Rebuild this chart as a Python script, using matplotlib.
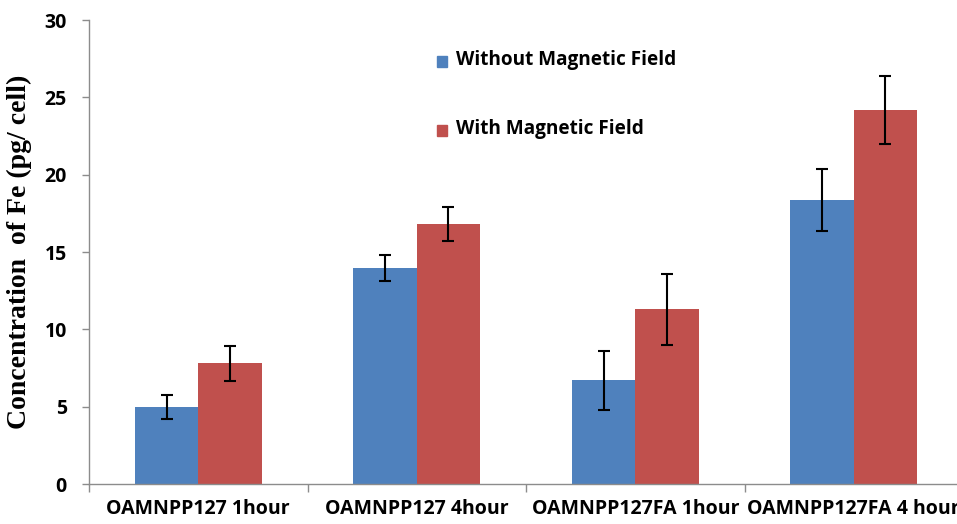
import numpy as np
import matplotlib.pyplot as plt
from matplotlib.patches import Rectangle

categories = ['OAMNPP127 1hour', 'OAMNPP127 4hour', 'OAMNPP127FA 1hour', 'OAMNPP127FA 4 hour']
without_field = [5.0, 13.95, 6.7, 18.35]
without_err = [0.78, 0.85, 1.9, 2.0]
with_field = [7.8, 16.8, 11.3, 24.2]
with_err = [1.15, 1.1, 2.3, 2.2]
series_names = ['Without Magnetic Field', 'With Magnetic Field']

blue = '#4F81BD'
red = '#C0504D'
axis_gray = '#8c8c8c'

fig = plt.figure(figsize=(9.57, 5.24), dpi=100)
ax = fig.add_axes([0.093, 0.0763, 0.9133, 0.8855])

x = np.arange(len(categories))
w = 0.29
ax.bar(x - w/2, without_field, w, color=blue, zorder=2)
ax.bar(x + w/2, with_field, w, color=red, zorder=2)
ax.errorbar(x - w/2, without_field, yerr=without_err, fmt='none', ecolor='k',
            elinewidth=1.5, capsize=4, capthick=1.5, zorder=3)
ax.errorbar(x + w/2, with_field, yerr=with_err, fmt='none', ecolor='k',
            elinewidth=1.5, capsize=4, capthick=1.5, zorder=3)

ax.set_xlim(-0.5, len(categories) - 0.5)
ax.set_ylim(0, 30)
ax.set_yticks(np.arange(0, 31, 5))

# category ticks between groups, labels centred under groups
# (the last label runs off the right edge, as in the original)
ax.set_xticks(np.arange(-0.5, len(categories), 1.0))
ax.set_xticklabels([])
ax.set_xticks(x, minor=True)
ax.set_xticklabels(categories, minor=True, fontsize=14, fontweight='bold',
                   family='Open Sans')
ax.tick_params(axis='x', which='minor', length=0, pad=11)
ax.tick_params(axis='x', which='major', length=6, color=axis_gray, width=1)
ax.tick_params(axis='y', length=5, color=axis_gray, width=1, pad=11,
               labelsize=14)
for lab in ax.get_yticklabels():
    lab.set_fontweight('bold')
    lab.set_family('Open Sans')

for s in ['top', 'right']:
    ax.spines[s].set_visible(False)
for s in ['left', 'bottom']:
    ax.spines[s].set_color(axis_gray)
    ax.spines[s].set_linewidth(1)

ax.set_ylabel('Concentration  of Fe (pg/ cell)', family='Liberation Serif',
              fontweight='bold', fontsize=20, labelpad=9)

# legend drawn as squares + text like the original
leg_y = [0.885, 0.753]
for name, col, yy in zip(series_names, [blue, red], leg_y):
    fig.patches.append(Rectangle((0.457, yy - 0.012), 0.0105, 0.021,
                                 transform=fig.transFigure, color=col))
    fig.text(0.476, yy, name, fontsize=13.7, fontweight='bold',
             family='Open Sans', va='center', ha='left')

fig.savefig('out.png', dpi=100)
